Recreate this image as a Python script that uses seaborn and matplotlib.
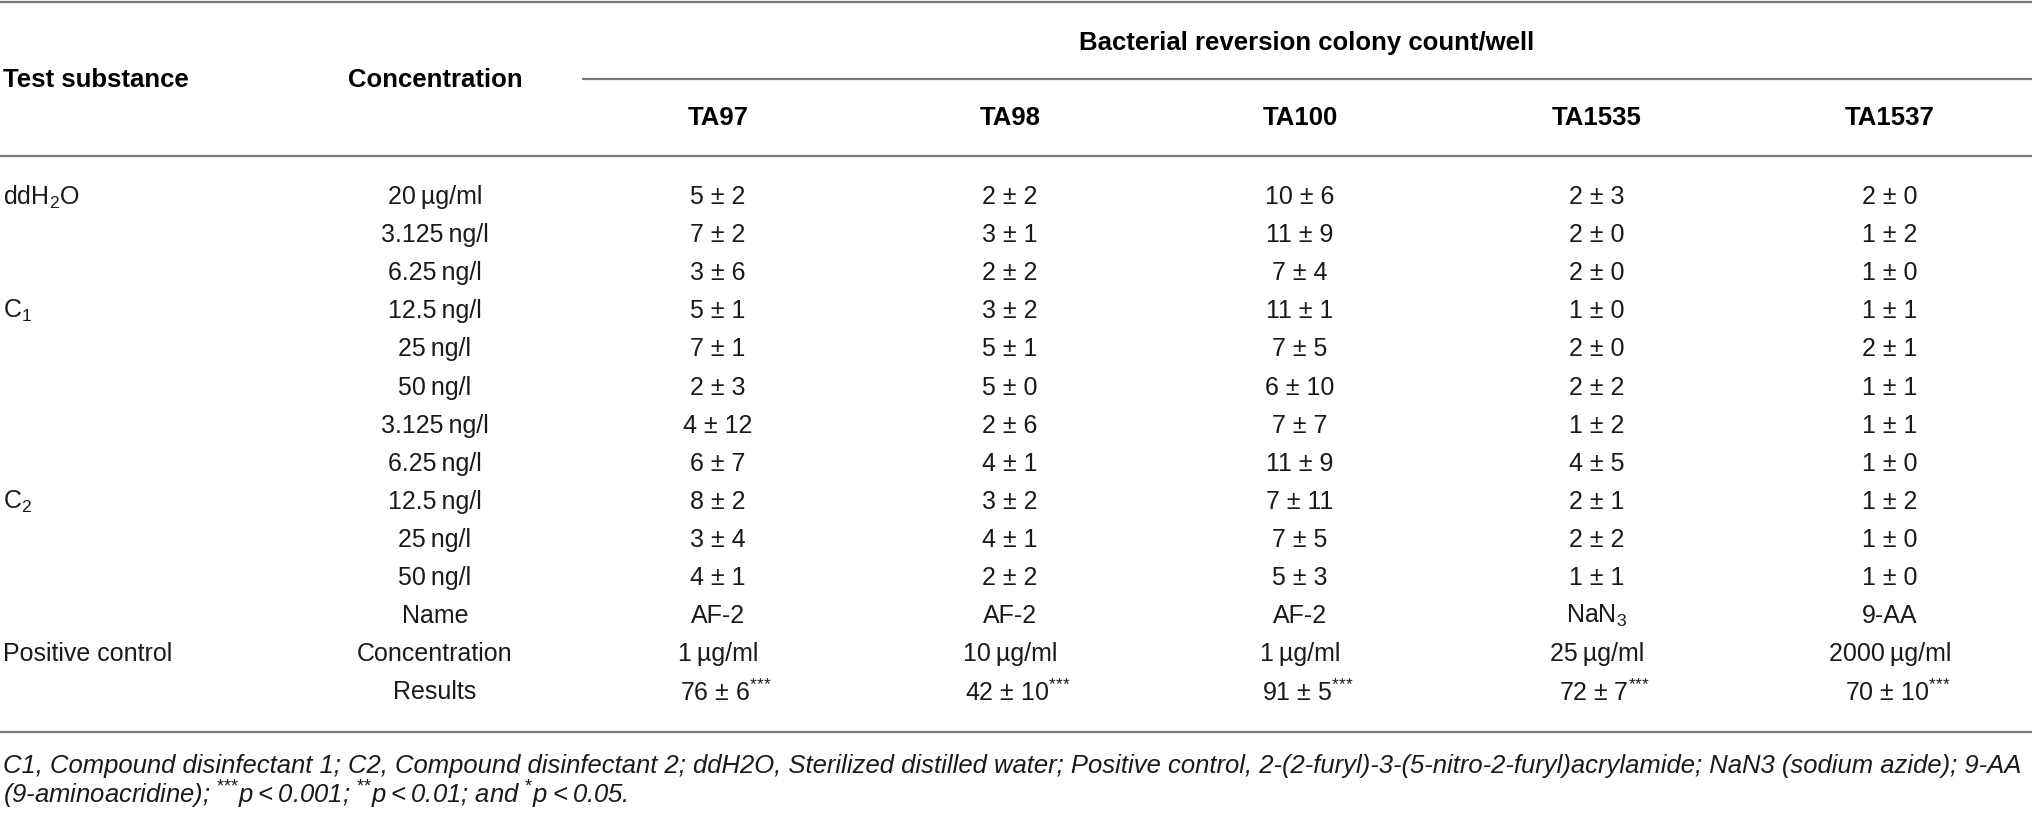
import matplotlib
matplotlib.use("Agg")
import matplotlib.pyplot as plt
import seaborn as sns
import pandas as pd
import numpy as np

sns.set_theme(style="white")
plt.rcParams['font.family'] = ['Liberation Sans', 'DejaVu Sans']
plt.rcParams['mathtext.fontset'] = 'custom'
plt.rcParams['mathtext.rm'] = 'Liberation Sans'
plt.rcParams['mathtext.it'] = 'Liberation Sans:italic'
plt.rcParams['mathtext.bf'] = 'Liberation Sans:bold'

# ---- data ----
strains = ["TA97", "TA98", "TA100", "TA1535", "TA1537"]
concentrations = ["20\u2009\u00b5g/ml", "3.125\u2009ng/l", "6.25\u2009ng/l", "12.5\u2009ng/l",
                  "25\u2009ng/l", "50\u2009ng/l", "3.125\u2009ng/l", "6.25\u2009ng/l",
                  "12.5\u2009ng/l", "25\u2009ng/l", "50\u2009ng/l"]
substance_labels = {0: "ddH$_2$O", 3: "C$_1$", 8: "C$_2$"}

ta97_mean = [5, 7, 3, 5, 7, 2, 4, 6, 8, 3, 4]
ta97_sd = [2, 2, 6, 1, 1, 3, 12, 7, 2, 4, 1]
ta98_mean = [2, 3, 2, 3, 5, 5, 2, 4, 3, 4, 2]
ta98_sd = [2, 1, 2, 2, 1, 0, 6, 1, 2, 1, 2]
ta100_mean = [10, 11, 7, 11, 7, 6, 7, 11, 7, 7, 5]
ta100_sd = [6, 9, 4, 1, 5, 10, 7, 9, 11, 5, 3]
ta1535_mean = [2, 2, 2, 1, 2, 2, 1, 4, 2, 2, 1]
ta1535_sd = [3, 0, 0, 0, 0, 2, 2, 5, 1, 2, 1]
ta1537_mean = [2, 1, 1, 1, 2, 1, 1, 1, 1, 1, 1]
ta1537_sd = [0, 2, 0, 1, 1, 1, 1, 0, 2, 0, 0]

pos_names = ["AF-2", "AF-2", "AF-2", "NaN$_3$", "9-AA"]
pos_conc = ["1\u2009\u00b5g/ml", "10\u2009\u00b5g/ml", "1\u2009\u00b5g/ml", "25\u2009\u00b5g/ml", "2000\u2009\u00b5g/ml"]
pos_mean = [76, 42, 91, 72, 70]
pos_sd = [6, 10, 5, 7, 10]

STARS = r"$^{{*}{*}{*}}$"
footnote_1 = ("C1, Compound disinfectant 1; C2, Compound disinfectant 2; ddH2O, Sterilized distilled water; "
              "Positive control, 2-(2-furyl)-3-(5-nitro-2-furyl)acrylamide; NaN3 (sodium azide); 9-AA")
footnote_2 = ("(9-aminoacridine); " + STARS + "p\u2009<\u20090.001; " + r"$^{{*}{*}}$"
              + "p\u2009<\u20090.01; and " + r"$^{{*}}$" + "p\u2009<\u20090.05.")

means = pd.DataFrame(dict(zip(strains, [ta97_mean, ta98_mean, ta100_mean, ta1535_mean, ta1537_mean])))
sds = pd.DataFrame(dict(zip(strains, [ta97_sd, ta98_sd, ta100_sd, ta1535_sd, ta1537_sd])))
cells = means.astype(str) + " \u00b1 " + sds.astype(str)

# ---- layout ----
W, H = 2032, 813
fig = plt.figure(figsize=(W / 100, H / 100), dpi=100)
ax = fig.add_axes([0, 0, 1, 1])
ax.set_xlim(0, W)
ax.set_ylim(H, 0)
ax.axis("off")

txt = "#1a1a1a"
line_c = "#7a7a7a"
fs = 18
fs_head = 18.5
x_sub = 3
x_conc = 435
x_strain = [718, 1010, 1300, 1597, 1890]
row0, step = 197, 38.1
rows_y = row0 + step * np.arange(14)

# rules
for y in [2, 156, 732]:
    ax.plot([0, W], [y, y], color=line_c, lw=1.6, solid_capstyle="butt")
ax.plot([582, W], [79, 79], color=line_c, lw=1.6, solid_capstyle="butt")

# header
ax.text(x_sub, 80, "Test substance", ha="left", va="center", fontsize=fs_head, weight="bold", color="black")
ax.text(x_conc, 80, "Concentration", ha="center", va="center", fontsize=fs_head, weight="bold", color="black")
ax.text(np.mean([582, W]), 43, "Bacterial reversion colony count/well", ha="center", va="center",
        fontsize=fs_head, weight="bold", color="black")
for x, s in zip(x_strain, strains):
    ax.text(x, 118, s, ha="center", va="center", fontsize=fs_head, weight="bold", color="black")

# body
for i, c in enumerate(concentrations):
    y = rows_y[i]
    if i in substance_labels:
        ax.text(x_sub, y, substance_labels[i], ha="left", va="center", fontsize=fs, color=txt)
    ax.text(x_conc, y, c, ha="center", va="center", fontsize=fs, color=txt)
    for x, s in zip(x_strain, strains):
        ax.text(x, y, cells.loc[i, s], ha="center", va="center", fontsize=fs, color=txt)

# positive control block
y_name, y_pc, y_res = rows_y[11], rows_y[12], rows_y[13]
ax.text(x_sub, y_pc, "Positive control", ha="left", va="center", fontsize=fs, color=txt)
ax.text(x_conc, y_name, "Name", ha="center", va="center", fontsize=fs, color=txt)
ax.text(x_conc, y_pc, "Concentration", ha="center", va="center", fontsize=fs, color=txt)
ax.text(x_conc, y_res, "Results", ha="center", va="center", fontsize=fs, color=txt)
for x, n, c, m, s in zip(x_strain, pos_names, pos_conc, pos_mean, pos_sd):
    ax.text(x, y_name, n, ha="center", va="center", fontsize=fs, color=txt)
    ax.text(x, y_pc, c, ha="center", va="center", fontsize=fs, color=txt)
    ax.text(x + 8, y_res, f"{m} \u00b1 {s}" + STARS, ha="center", va="center", fontsize=fs, color=txt)

# footnote, sized to span the table width
f1 = ax.text(x_sub, 766, footnote_1, ha="left", va="center", fontsize=16, style="italic", color=txt)
fig.canvas.draw()
wpx = f1.get_window_extent().width
fs_note = 16 * (2022 - x_sub) / wpx
f1.set_fontsize(fs_note)
ax.text(x_sub, 795, footnote_2, ha="left", va="center", fontsize=fs_note, style="italic", color=txt)

fig.savefig("out.png", dpi=100, facecolor="white")
